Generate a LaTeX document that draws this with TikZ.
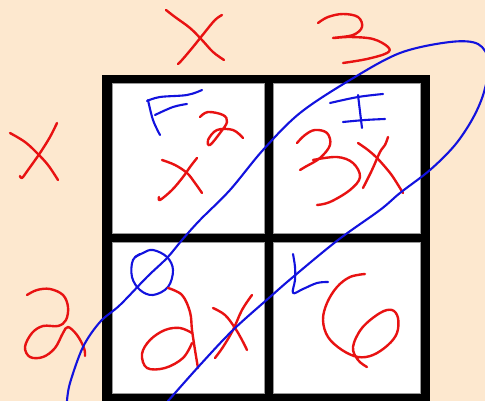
\documentclass[tikz,border=0pt]{standalone}
\definecolor{bgpeach}{RGB}{253,232,207}
\definecolor{inkred}{RGB}{232,18,18}
\definecolor{inkblue}{RGB}{18,18,222}
\tikzset{
  redink/.style={draw=inkred,line width=2.4pt,line cap=round,line join=round},
  blueink/.style={draw=inkblue,line width=2.1pt,line cap=round,line join=round},
  cellbox/.style={fill=white,draw=black!40,line width=0.4pt}
}
\begin{document}
\begin{tikzpicture}[x=1pt,y=-1pt]
\useasboundingbox (0,0) rectangle (485,401);
\clip (0,0) rectangle (485,401);
\fill[bgpeach] (0,0) rectangle (485,401);
% grid
\fill[black] (102,75) rectangle (430,401);
\path[cellbox] (112,83) rectangle (264,233);
\path[cellbox] (273,83) rectangle (420,233);
\path[cellbox] (112,242) rectangle (264,393);
\path[cellbox] (273,242) rectangle (420,393);
% top x
\draw[redink] plot[smooth,tension=0.6] coordinates {(166,10) (175,17) (190,28) (202,40) (213,52) (224,60)};
\draw[redink] plot[smooth,tension=0.6] coordinates {(222,15) (215,20) (205,32) (193,47) (182,60) (178,64)};
% top 3
\draw[redink] plot[smooth,tension=0.6] coordinates {(318,23) (328,17) (343,14) (358,17) (362,27) (353,35) (333,38) (350,37) (373,39) (388,47) (387,53) (367,59) (343,63)};
% left x
\draw[redink] plot[smooth,tension=0.6] coordinates {(10,133) (25,142) (37,153) (48,165) (58,180)};
\draw[redink] plot[smooth,tension=0.6] coordinates {(57,123) (50,137) (40,153) (28,170) (22,178) (20,176)};
% left 2
\draw[redink] plot[smooth,tension=0.6] coordinates {(27,295) (37,290) (50,289) (63,295) (68,307) (66,320) (58,326) (43,326) (32,333) (25,347) (30,357) (43,357) (55,348) (63,333) (68,327) (77,335) (84,348) (85,356)};
% cell 1: F, x^2
\draw[blueink] plot[smooth,tension=0.6] coordinates {(147,101) (160,97) (187,95) (202,90)};
\draw[blueink] plot[smooth,tension=0.6] coordinates {(148,100) (153,120) (160,135)};
\draw[blueink] plot[smooth,tension=0.6] coordinates {(155,115) (173,107) (187,104)};
\draw[redink] plot[smooth,tension=0.6] coordinates {(200,117) (208,112) (223,115) (227,122) (220,133) (210,145) (208,140) (217,130) (233,130) (243,138)};
\draw[redink] plot[smooth,tension=0.6] coordinates {(162,160) (175,165) (187,173) (195,183) (202,193)};
\draw[redink] plot[smooth,tension=0.6] coordinates {(197,158) (190,167) (183,177) (172,190) (160,200) (159,197)};
% cell 2: I, 3x
\draw[blueink] plot[smooth,tension=0.6] coordinates {(330,103) (358,97) (383,94)};
\draw[blueink] (358,95) -- (362,128);
\draw[blueink] plot[smooth,tension=0.6] coordinates {(343,122) (365,120) (385,119)};
\draw[redink] plot[smooth,tension=0.6] coordinates {(297,143) (305,135) (315,130) (327,133) (330,145) (320,158) (305,167) (300,170)};
\draw[redink] plot[smooth,tension=0.6] coordinates {(313,160) (337,157) (353,163) (360,177) (350,190) (330,202) (317,205)};
\draw[redink] plot[smooth,tension=0.6] coordinates {(358,143) (368,150) (377,158) (386,168) (393,177) (403,193)};
\draw[redink] plot[smooth,tension=0.6] coordinates {(388,137) (385,145) (380,152) (372,170) (363,188)};
% cell 3: O, 2x
\draw[blueink] plot[smooth cycle,tension=0.6] coordinates {(153,250) (167,257) (173,270) (168,287) (153,295) (140,290) (132,277) (133,260) (143,253)};
\draw[blueink] (135,257) -- (140,254);
\draw[redink] plot[smooth,tension=0.6] coordinates {(168,288) (182,295) (190,312) (192,330) (195,350) (198,368)};
\draw[redink] plot[smooth,tension=0.6] coordinates {(192,333) (180,328) (165,330) (150,340) (142,354) (147,368) (165,368) (183,358) (192,343)};
\draw[redink] plot[smooth,tension=0.6] coordinates {(213,308) (225,315) (235,328) (242,340) (247,350)};
\draw[redink] plot[smooth,tension=0.6] coordinates {(252,295) (242,310) (233,330) (223,347) (215,358)};
% cell 4: L, 6
\draw[blueink] plot[smooth,tension=0.6] coordinates {(293,254) (295,267) (295,280) (293,293) (303,289) (317,283) (328,282)};
\draw[redink] plot[smooth,tension=0.6] coordinates {(365,274) (350,277) (337,287) (327,303) (323,320) (328,337) (342,350) (358,357) (373,355) (388,345) (397,333) (398,318) (392,310) (380,313) (362,328) (353,347) (358,360) (367,367)};
% big blue loop
\draw[blueink] plot[smooth,tension=0.55] coordinates {(67,401) (70,383) (83,347) (100,322) (120,305) (147,277) (167,258) (182,240) (200,220) (230,190) (263,150) (300,113) (350,80) (400,53) (450,42) (478,44) (489,62) (484,92) (473,118) (455,145) (430,170) (400,193) (380,210) (338,240) (293,277) (270,297) (233,330) (200,365) (168,401)};
\end{tikzpicture}
\end{document}
